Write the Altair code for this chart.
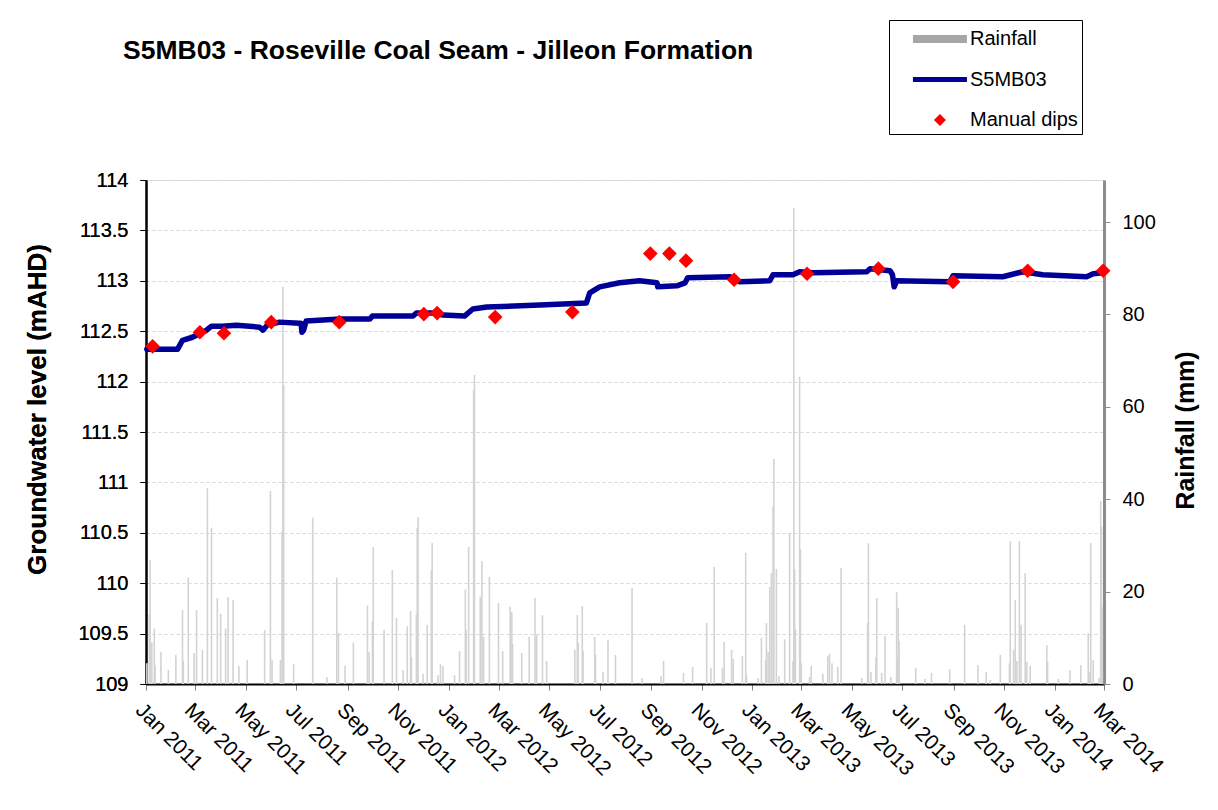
import altair as alt
import pandas as pd

START = "2011-01-01"  # day offsets below count from this date

# Groundwater level S5MB03 (mAHD)
level_day = [1, 38, 44, 56, 73, 79, 92, 109, 137, 141, 146, 161, 185, 187, 188, 190, 193,
             234, 270, 273, 322, 326, 346, 358, 384, 394, 411, 475, 531, 535, 547, 571,
             595, 616, 617, 640, 650, 653, 704, 716, 752, 756, 780, 788, 804, 869, 873,
             897, 900, 902, 905, 969, 973, 1033, 1057, 1081, 1134, 1142, 1154]
level_m = [112.32, 112.32, 112.41, 112.44, 112.51, 112.55, 112.55, 112.56, 112.54, 112.51,
           112.56, 112.59, 112.58, 112.58, 112.49, 112.51, 112.60, 112.62, 112.62, 112.65,
           112.65, 112.68, 112.68, 112.66, 112.65, 112.72, 112.74, 112.76, 112.78, 112.88,
           112.94, 112.98, 113.00, 112.98, 112.94, 112.95, 112.98, 113.03, 113.04, 112.99,
           113.00, 113.06, 113.06, 113.09, 113.08, 113.09, 113.12, 113.10, 113.06, 112.94,
           113.00, 112.99, 113.05, 113.04, 113.09, 113.06, 113.04, 113.07, 113.08]

# Manual dips (mAHD)
dip_day = [8, 65, 94, 151, 233, 335, 351, 421, 514, 608, 631, 651, 709, 797, 883, 973, 1063, 1154]
dip_m = [112.35, 112.49, 112.48, 112.59, 112.59, 112.67, 112.68, 112.64, 112.69, 113.27,
         113.27, 113.20, 113.01, 113.07, 113.12, 112.99, 113.10, 113.10]

# Daily rainfall (mm)
rain_day = [1, 4, 5, 7, 10, 11, 18, 27, 36, 44, 45, 51, 58, 61, 68, 74, 79, 86, 90, 96, 99,
            105, 112, 122, 143, 150, 152, 162, 164, 165, 166, 178, 201, 218, 230, 232, 240,
            250, 267, 269, 273, 274, 287, 297, 302, 310, 315, 319, 320, 326, 327, 328, 334,
            339, 344, 345, 352, 355, 358, 372, 378, 385, 386, 389, 395, 396, 403, 405, 407,
            414, 425, 430, 439, 441, 442, 453, 462, 469, 471, 478, 483, 517, 520, 521, 526,
            527, 541, 542, 551, 557, 566, 586, 598, 621, 624, 648, 659, 676, 681, 685, 695,
            697, 706, 708, 719, 723, 724, 738, 742, 747, 748, 750, 752, 754, 756, 757, 760,
            763, 770, 776, 780, 781, 782, 783, 788, 789, 790, 800, 802, 816, 822, 824, 827,
            834, 838, 863, 870, 871, 874, 880, 881, 887, 891, 898, 905, 906, 907, 908, 928,
            939, 947, 969, 987, 1003, 1013, 1018, 1030, 1041, 1042, 1046, 1048, 1050, 1053,
            1055, 1060, 1062, 1066, 1086, 1087, 1100, 1114, 1127, 1136, 1138, 1139, 1142,
            1149, 1151, 1152, 1153]
rain_mm = [4.5, 15, 26.8, 9, 12, 4, 7, 3, 6.3, 16, 5, 23, 6.7, 16, 7.4, 42.4, 33.8, 18.6,
           15.2, 12, 18.8, 18.2, 3.9, 5.2, 11.7, 41.8, 5.2, 5.2, 33, 86, 64.7, 4.3, 36, 1.5,
           23, 11, 4, 9, 17, 6.9, 13.6, 29.6, 11.7, 24.7, 14.3, 3, 12.5, 15.8, 5.8, 15, 33.8,
           36.1, 2.2, 12.8, 24.5, 30.5, 1.9, 4.3, 3.9, 1.9, 7.1, 20.5, 11.7, 29.7, 63.6, 66.9,
           18.9, 26.6, 10.2, 23.2, 17.5, 7.1, 16.7, 15.6, 8.7, 6.7, 10.2, 18.6, 10.6, 14.9, 5,
           7.4, 14.9, 8.9, 16.9, 7.1, 10.2, 6.3, 2.6, 9.5, 6.3, 20.8, 1.3, 1.7, 5, 2.4, 3.7,
           13.2, 3.5, 25.3, 3.5, 9.1, 7.4, 5.4, 6.1, 28.4, 1.9, 1.3, 10, 5.2, 13.2, 6.9, 21,
           24, 38.5, 48.7, 24.9, 1.7, 9.7, 32.7, 5, 103, 24.9, 11.9, 66.5, 29.2, 4.5, 1.5, 3.9,
           2.2, 6.1, 6.5, 4.5, 3.7, 25.1, 1.3, 13.2, 30.5, 2.6, 5.8, 18.6, 2.4, 10.4, 1.5,
           19.9, 5.6, 16.5, 9.3, 3.5, 1.1, 2.4, 3.2, 12.8, 4.1, 2.6, 0.9, 6.3, 4.5, 30.9, 7.4,
           18.2, 5, 30.9, 12.8, 24, 4.8, 3.9, 8.4, 4.8, 1.1, 3, 4.1, 11, 2.6, 30.5, 5.2, 1.3,
           39.6, 34, 16.7]

series_names = ["Rainfall", "S5MB03", "Manual dips"]
series_colors = ["#a6a6a6", "#000096", "#ff0000"]
legend_shapes = [
    "M0.33,-0.27H3.93V0.27H0.33Z",
    "M0.33,-0.17H3.93V0.17H0.33Z",
    "M2.13,-0.4L2.53,0L2.13,0.4L1.73,0Z",
]

level_ticks = [109, 109.5, 110, 110.5, 111, 111.5, 112, 112.5, 113, 113.5, 114]
rain_ticks = [0, 20, 40, 60, 80, 100]


def to_date(days):
    base = pd.Timestamp(START)
    return [(base + pd.Timedelta(days=int(d))).strftime("%Y-%m-%dT00:00:00") for d in days]


level_df = pd.DataFrame({"date": to_date(level_day), "level": level_m})
dip_df = pd.DataFrame({"date": to_date(dip_day), "level": dip_m, "series": "Manual dips"})
rain_df = pd.DataFrame({"date": to_date(rain_day), "mm": rain_mm})

tick_dates = []
for yr in [2011, 2012, 2013, 2014]:
    for mo in [1, 3, 5, 7, 9, 11]:
        if yr == 2014 and mo > 3:
            continue
        tick_dates.append(alt.DateTime(year=yr, month=mo, date=1))

FONT = "Liberation Sans"

x_enc = alt.X(
    "date:T",
    scale=alt.Scale(domain=[alt.DateTime(year=2011, month=1, date=1),
                            alt.DateTime(year=2014, month=3, date=1)]),
    axis=alt.Axis(values=tick_dates, format="%b %Y", labelAngle=45, labelAlign="left",
                  labelBaseline="top", labelPadding=9, labelFontSize=21, labelOverlap=False,
                  tickSize=6, tickColor="#808080", domainColor="black", domainWidth=2,
                  grid=False, title=None, labelColor="black", labelFont=FONT),
)

rain = alt.Chart(rain_df).mark_rule(color="#d3d3d3", strokeWidth=1.6).encode(
    x=x_enc,
    y=alt.Y("mm:Q",
            scale=alt.Scale(domain=[0, 109.1], nice=False, zero=True),
            axis=alt.Axis(orient="right", values=rain_ticks, grid=False, domainColor="#8c8c8c",
                          domainWidth=3, tickColor="#8c8c8c", tickSize=6, labelPadding=12,
                          labelFontSize=20, labelColor="black", labelFont=FONT,
                          title="Rainfall (mm)", titleFontSize=25, titleFontWeight="bold",
                          titleFont=FONT, titleAngle=270, titleX=81, titleY=250,
                          titleBaseline="middle", titleAlign="center", titleColor="black")),
    y2=alt.datum(0),
)

y_level = alt.Y("level:Q",
                scale=alt.Scale(domain=[109, 114], nice=False, zero=False),
                axis=alt.Axis(orient="left", values=level_ticks, format="~g", grid=True,
                              gridDash=[3, 3], gridColor="#d9d9d9", gridWidth=1,
                              domainColor="black", domainWidth=2, tickColor="black",
                              tickSize=6, labelPadding=12, labelFontSize=20,
                              labelColor="black", labelFont=FONT,
                              title="Groundwater level (mAHD)", titleFontSize=26,
                              titleFontWeight="bold", titleFont=FONT, titleAngle=270,
                              titleX=-109, titleY=229, titleBaseline="middle",
                              titleAlign="center", titleColor="black"))

line = alt.Chart(level_df).mark_line(color="#000096", strokeWidth=5.5, strokeCap="round",
                                     strokeJoin="round").encode(x=x_enc, y=y_level)

dips = alt.Chart(dip_df).mark_point(filled=True, shape="diamond", size=215, color="#ff0000",
                                    opacity=1).encode(x=x_enc, y=y_level)

legend_layer = alt.Chart(dip_df).transform_filter("false").mark_point(
    filled=True, opacity=1).encode(
    color=alt.Color("series:N",
                    scale=alt.Scale(domain=series_names, range=series_colors),
                    legend=alt.Legend(title=None, orient="none", legendX=743, legendY=-160,
                                      strokeColor="black", fillColor="white", padding=4,
                                      rowPadding=15.5, labelOffset=47, symbolSize=900,
                                      symbolStrokeWidth=0, labelFontSize=20, labelFont=FONT,
                                      labelColor="black", symbolOpacity=1,
                                      labelExpr="datum.label + '\u00a0\u00a0\u00a0\u00a0\u00a0\u00a0'")),
    shape=alt.Shape("series:N", scale=alt.Scale(domain=series_names, range=legend_shapes)),
)

chart = alt.layer(rain, line, dips, legend_layer).resolve_scale(y="independent").properties(
    width=958, height=504,
    padding={"left": 138, "top": 172, "right": 100, "bottom": 110},
    autosize=alt.AutoSizeParams(type="none"),
    title=alt.TitleParams(text="S5MB03 - Roseville Coal Seam - Jilleon Formation",
                          anchor="start", fontSize=26.5, fontWeight="bold", font=FONT,
                          color="black", dx=99, dy=49),
).configure_view(stroke="#8c8c8c", strokeWidth=3).configure(font=FONT, background="white")

chart.save("out.html", embed_options={"renderer": "svg", "actions": False})
